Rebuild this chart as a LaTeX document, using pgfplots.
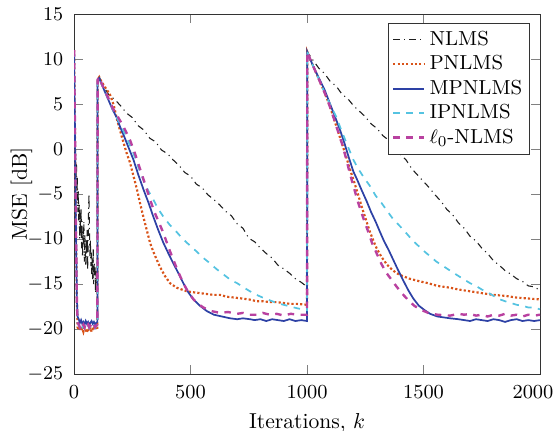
\documentclass[border=0pt]{standalone}
\usepackage{pgfplots}
\pgfplotsset{compat=1.18}

\definecolor{cnlms}{RGB}{30,30,30}
\definecolor{cpnlms}{RGB}{217,83,25}
\definecolor{cmpnlms}{RGB}{45,65,165}
\definecolor{cipnlms}{RGB}{85,195,225}
\definecolor{czero}{RGB}{185,65,160}

\begin{document}
\begin{tikzpicture}
\begin{axis}[
    scale only axis,
    width=215.7pt, height=166.7pt,
    xmin=0, xmax=2000,
    ymin=-25, ymax=15,
    xtick={0,500,1000,1500,2000},
    xticklabels={0,500,1000,1500,{\makebox[18pt][r]{2000\kern2.8pt}}},
    ytick={-25,-20,...,15},
    xlabel={Iterations, $k$},
    ylabel={MSE [dB]},
    tick label style={font=\fontsize{9.2}{11}\selectfont},
    xticklabel style={yshift=-1.5pt},
    yticklabel style={xshift=-1.5pt},
    xlabel style={yshift=0pt},
    ylabel style={yshift=-9pt},
    tick align=inside,
    axis line style={black!80},
    legend style={at={(0.979,0.975)}, anchor=north east, draw=black!80,
        row sep=-0.8pt, inner sep=1.5pt, font=\fontsize{9.4}{11}\selectfont},
    legend cell align=left,
    legend image code/.code={\draw[#1] (0cm,0cm) -- (0.5cm,0cm);},
]

% NLMS
\addplot[cnlms, line width=0.5pt, dash dot] coordinates {
(0,11) (2,4) (4,-2) (6,-1) (8,-4) (10,-1.5) (12,-5) (14,-3) (16,-7) (18,-4.5)
(20,-8) (22,-6) (24,-10) (26,-7) (28,-9.5) (30,-6.5) (32,-11) (34,-8) (36,-12) (38,-9)
(40,-10.5) (42,-8) (44,-12.5) (46,-9.5) (48,-11) (50,-13) (52,-10) (54,-12) (56,-9) (58,-13.5)
(60,-11) (62,-7) (64,-5) (66,-9) (68,-12) (70,-10) (72,-13) (74,-11.5) (76,-14) (78,-12)
(80,-14.5) (82,-11) (84,-15) (86,-12.5) (88,-14) (90,-13) (92,-16) (94,-13.5) (96,-15) (98,-14) (100,-14.5)
(101,7.8) (110,7.9) (125,7.0) (150,6.0) (175,5.5) (200,4.8) (225,4.0) (250,3.5) (275,2.6) (300,2.1)
(325,1.2) (350,0.8) (375,-0.1) (400,-0.5) (425,-1.2) (450,-1.8) (475,-2.6) (500,-3.0) (525,-3.9) (550,-4.3)
(575,-5.1) (600,-5.6) (625,-6.2) (650,-6.9) (675,-7.4) (700,-8.3) (725,-8.8) (750,-9.9) (775,-10.3) (800,-11.0)
(825,-11.6) (850,-12.1) (875,-12.9) (900,-13.3) (925,-13.8) (950,-14.4) (975,-14.8) (1000,-15.3)
(1001,10.8) (1025,9.9) (1050,9.0) (1075,8.4) (1100,7.5) (1125,7.0) (1150,6.1) (1175,5.6) (1200,4.8) (1225,4.2)
(1250,3.6) (1275,2.8) (1300,2.3) (1325,1.5) (1350,1.0) (1375,0.2) (1400,-0.6) (1425,-1.2) (1450,-2.2) (1475,-2.9)
(1500,-3.6) (1525,-4.3) (1550,-5.1) (1575,-5.8) (1600,-6.7) (1625,-7.3) (1650,-8.2) (1675,-8.8) (1700,-9.7) (1725,-10.2)
(1750,-11.0) (1775,-11.6) (1800,-12.4) (1825,-12.9) (1850,-13.5) (1875,-13.9) (1900,-14.4) (1925,-14.7) (1950,-15.2) (1975,-15.3) (2000,-15.7)
};
\addlegendentry{NLMS}

% PNLMS
\addplot[cpnlms, line width=1pt, densely dotted] coordinates {
(0,11) (3,4) (6,-4) (9,-11) (12,-17) (15,-19.8) (20,-20.1) (25,-19.7) (30,-20.2) (35,-19.9)
(40,-20.3) (45,-19.8) (50,-20.1) (55,-20.4) (60,-19.9) (65,-20.2) (70,-19.8) (75,-20.3) (80,-20.0) (85,-19.7)
(90,-20.1) (95,-19.8) (100,-20.0)
(101,7.7) (108,8.0) (115,7.6) (125,7.2) (140,6.6) (155,6.0) (170,4.9) (185,3.2) (197,2.1) (210,0.9)
(225,-0.4) (240,-1.5) (255,-3.0) (270,-4.5) (283,-6.0) (298,-7.6) (312,-9.0) (326,-10.4) (340,-11.4) (355,-12.3)
(369,-13.1) (390,-14.1) (412,-14.9) (440,-15.4) (462,-15.6) (484,-15.8) (510,-15.9) (540,-16.0) (570,-16.1) (600,-16.2)
(627,-16.2) (655,-16.4) (690,-16.5) (720,-16.6) (750,-16.7) (784,-16.9) (810,-16.9) (840,-17.0) (870,-17.0) (900,-17.1)
(930,-17.2) (960,-17.2) (1000,-17.3)
(1001,10.8) (1015,9.9) (1030,9.0) (1045,8.1) (1060,7.2) (1075,6.3) (1090,5.3) (1105,4.2) (1120,3.0) (1135,1.8)
(1150,0.6) (1165,-0.6) (1180,-1.9) (1199,-3.4) (1215,-4.7) (1230,-6.0) (1242,-7.0) (1256,-8.1) (1270,-9.2) (1285,-10.2)
(1300,-11.1) (1320,-12.0) (1342,-12.8) (1365,-13.4) (1385,-13.8) (1410,-14.1) (1440,-14.4) (1485,-14.7) (1520,-14.9) (1560,-15.2)
(1614,-15.4) (1650,-15.6) (1700,-15.8) (1750,-16.0) (1800,-16.2) (1850,-16.3) (1900,-16.5) (1950,-16.6) (2000,-16.7)
};
\addlegendentry{PNLMS}

% MPNLMS
\addplot[cmpnlms, line width=0.8pt] coordinates {
(0,11) (3,4) (6,-4) (9,-11) (12,-16.5) (15,-18.6) (20,-18.9) (25,-19.3) (30,-19.0) (35,-19.4)
(40,-19.2) (45,-19.5) (50,-19.1) (55,-19.4) (60,-19.2) (65,-19.5) (70,-19.3) (75,-19.1) (80,-19.4) (85,-19.2)
(90,-19.5) (95,-19.3) (100,-19.2)
(101,7.7) (108,7.9) (115,7.4) (130,6.5) (150,5.3) (165,4.4) (183,3.5) (197,2.5) (215,1.4) (235,0.1)
(255,-1.2) (275,-2.8) (298,-4.5) (320,-6.0) (340,-7.5) (360,-8.9) (383,-10.4) (405,-11.6) (426,-12.7) (448,-13.8)
(469,-14.9) (490,-15.9) (512,-16.7) (540,-17.4) (570,-18.0) (600,-18.4) (635,-18.6) (670,-18.8) (700,-18.9) (725,-18.8)
(755,-18.9) (775,-19.0) (800,-18.9) (825,-19.1) (850,-18.9) (875,-19.0) (900,-19.1) (925,-18.9) (950,-19.1) (975,-19.0) (1000,-19.1)
(1001,10.8) (1015,9.9) (1030,9.0) (1045,8.2) (1060,7.4) (1075,6.6) (1090,5.6) (1105,4.6) (1120,3.6) (1142,2.1)
(1160,0.7) (1180,-1.0) (1199,-2.5) (1215,-3.4) (1235,-4.6) (1256,-5.8) (1275,-7.0) (1295,-8.1) (1313,-9.2) (1330,-10.2)
(1350,-11.2) (1370,-12.3) (1390,-13.4) (1413,-14.6) (1435,-15.7) (1456,-16.6) (1480,-17.4) (1505,-17.9) (1528,-18.3) (1560,-18.6)
(1614,-18.8) (1650,-18.9) (1675,-19.0) (1700,-19.1) (1725,-18.9) (1750,-19.0) (1775,-19.1) (1800,-18.9) (1825,-19.0) (1850,-19.2)
(1875,-19.0) (1900,-18.9) (1925,-19.1) (1950,-19.0) (1975,-19.1) (2000,-19.0)
};
\addlegendentry{MPNLMS}

% IPNLMS
\addplot[cipnlms, line width=0.8pt, dashed] coordinates {
(0,11) (3,4) (6,-4) (9,-11) (12,-17) (15,-19.3) (20,-19.6) (25,-19.9) (30,-19.5) (35,-19.8)
(40,-19.6) (45,-19.9) (50,-19.5) (55,-19.8) (60,-19.6) (65,-19.9) (70,-19.7) (75,-19.5) (80,-19.8) (85,-19.6)
(90,-19.9) (95,-19.7) (100,-19.6)
(101,7.7) (108,7.9) (115,7.4) (130,6.5) (150,5.4) (165,4.5) (183,3.5) (200,2.7) (230,1.0) (255,-0.5)
(280,-2.3) (300,-3.6) (320,-4.7) (340,-5.6) (360,-6.6) (383,-7.5) (410,-8.4) (440,-9.2) (460,-9.8) (484,-10.4)
(510,-11.0) (535,-11.6) (560,-12.2) (584,-12.7) (610,-13.3) (640,-13.9) (670,-14.5) (700,-14.9) (730,-15.4) (755,-15.8)
(784,-16.2) (810,-16.5) (840,-16.8) (870,-17.1) (900,-17.3) (930,-17.5) (960,-17.7) (1000,-17.9)
(1001,10.8) (1015,9.9) (1030,9.0) (1045,8.1) (1060,7.2) (1075,6.3) (1100,4.9) (1125,3.6) (1150,1.9) (1175,0.3)
(1199,-1.2) (1220,-2.2) (1245,-3.2) (1270,-4.1) (1295,-5.2) (1320,-6.0) (1342,-6.8) (1370,-7.8) (1400,-8.6) (1428,-9.4)
(1455,-10.2) (1480,-10.8) (1505,-11.4) (1528,-11.9) (1555,-12.5) (1585,-13.0) (1614,-13.5) (1650,-14.1) (1675,-14.5) (1700,-14.9)
(1725,-15.2) (1750,-15.6) (1775,-15.9) (1800,-16.3) (1828,-16.7) (1850,-16.9) (1875,-17.1) (1900,-17.3) (1925,-17.4) (1950,-17.6)
(1975,-17.6) (2000,-17.8)
};
\addlegendentry{IPNLMS}

% l0-NLMS
\addplot[czero, line width=1.1pt, dashed] coordinates {
(0,11) (3,4) (6,-4) (9,-11) (12,-17) (15,-19.2) (20,-19.5) (25,-19.8) (30,-19.4) (35,-19.7)
(40,-19.5) (45,-19.8) (50,-19.4) (55,-19.7) (60,-19.5) (65,-19.8) (70,-19.6) (75,-19.4) (80,-19.7) (85,-19.5)
(90,-19.8) (95,-19.6) (100,-19.5)
(101,7.7) (108,8.0) (115,7.5) (130,6.6) (150,5.5) (165,4.6) (183,3.8) (210,2.6) (240,1.0) (260,-0.4)
(283,-2.2) (305,-3.9) (326,-5.6) (345,-7.0) (365,-8.2) (383,-9.3) (405,-10.9) (426,-12.3) (448,-13.7) (469,-14.9)
(490,-15.9) (510,-16.6) (527,-17.1) (555,-17.6) (590,-18.0) (627,-18.2) (660,-18.1) (700,-18.3) (725,-18.2) (750,-18.4)
(784,-18.4) (810,-18.2) (840,-18.4) (870,-18.3) (900,-18.5) (930,-18.3) (960,-18.4) (1000,-18.4)
(1001,10.8) (1015,9.9) (1030,9.0) (1045,8.1) (1060,7.2) (1075,6.3) (1090,5.3) (1105,4.2) (1120,3.0) (1135,1.8)
(1150,0.6) (1165,-0.8) (1185,-2.8) (1200,-4.2) (1220,-6.0) (1242,-7.7) (1260,-9.0) (1280,-10.5) (1299,-11.6) (1320,-12.8)
(1342,-13.8) (1365,-14.6) (1385,-15.3) (1410,-16.1) (1435,-16.8) (1460,-17.4) (1485,-17.8) (1520,-18.2) (1560,-18.4) (1614,-18.5)
(1650,-18.3) (1675,-18.4) (1700,-18.3) (1725,-18.5) (1750,-18.4) (1775,-18.6) (1800,-18.4) (1825,-18.5) (1850,-18.3) (1875,-18.5)
(1900,-18.4) (1925,-18.6) (1950,-18.4) (1975,-18.5) (2000,-18.4)
};
\addlegendentry{$\ell_0$-NLMS}

\end{axis}
\pgfresetboundingbox
\path (current axis.south west) ++(-34.3pt,-25.9pt) coordinate (bl);
\path (current axis.north east) ++(7.4pt,6.5pt) coordinate (tr);
\useasboundingbox (bl) rectangle (tr);
\end{tikzpicture}
\end{document}
